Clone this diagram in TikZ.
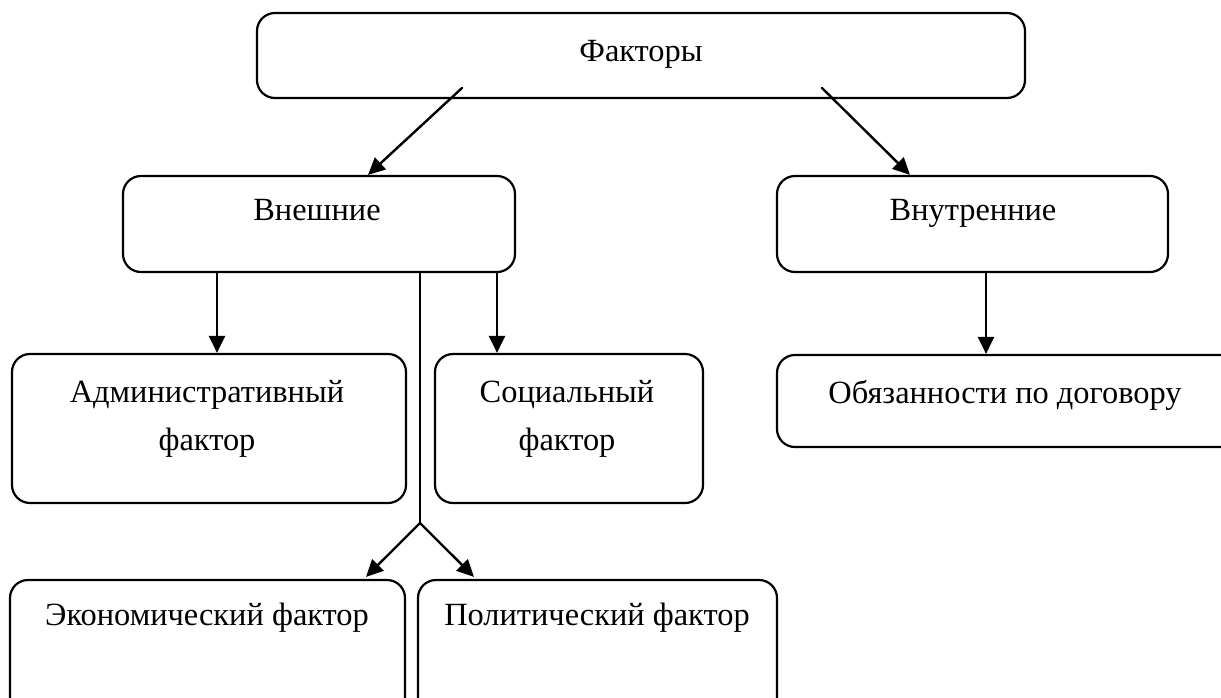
\documentclass[tikz,border=0pt]{standalone}
\usepackage{fontspec}
\setmainfont{Liberation Serif}
\usetikzlibrary{positioning}
\usetikzlibrary{calc}
\usetikzlibrary{arrows.meta}

\tikzset{
	box/.style={draw, line width=1.1pt, rounded corners=9pt, inner sep=0pt},
	lbl/.style={anchor=base, align=center, font=\fontsize{16.2}{24}\selectfont},
	arr/.style={-{Triangle[length=8.5pt,width=8pt]}, line width=1.2pt},
}

\begin{document}
\begin{tikzpicture}[line cap=round,line join=round,x=0.5pt,y=-0.5pt]
	\clip (0,0) rectangle (1221,697);
	
	% boxes
	\node [box, minimum width=384pt, minimum height=42.5pt] (fak) at (641,55.5) {};
	\node [box, minimum width=196pt, minimum height=48pt] (vne) at (319,224) {};
	\node [box, minimum width=195.5pt, minimum height=48pt] (vnu) at (972.5,224) {};
	\node [box, minimum width=197pt, minimum height=74.5pt] (adm) at (209,428.5) {};
	\node [box, minimum width=134pt, minimum height=74.5pt] (soc) at (569,428.5) {};
	\node [box, minimum width=231.5pt, minimum height=46pt] (obz) at (1008.5,401) {};
	\node [box, minimum width=197.5pt, minimum height=70pt] (eko) at (207.5,650) {};
	\node [box, minimum width=179.5pt, minimum height=70pt] (pol) at (597.5,650) {};
	
	% texts
	\node [lbl] (fakt) at (641,61) {Факторы};
	\node [lbl] (vnet) at (317,220) {Внешние};
	\node [lbl] (vnut) at (973,220) {Внутренние};
	\node [lbl] (admt) at (207,450) {Административный\\фактор};
	\node [lbl] (soct) at (567,450) {Социальный\\фактор};
	\node [lbl] (obzt) at (1005,403) {Обязанности по договору};
	\node [lbl] (ekot) at (207,625) {Экономический фактор};
	\node [lbl] (polt) at (597,625) {Политический фактор};
	
	% arrows
	\coordinate (f1) at (462,88);
	\coordinate (f2) at (822,88);
	\coordinate (v1) at (368,0);
	\coordinate (v2) at (910,0);
	\coordinate (xa) at (217,0);
	\coordinate (xs) at (497,0);
	\coordinate (xo) at (986,0);
	\coordinate (br) at (420,523);
	\coordinate (e1) at (366,0);
	\coordinate (p1) at (474,0);
	
	\draw [arr] (f1) -- (vne.north -| v1);
	\draw [arr] (f2) -- (vnu.north -| v2);
	
	\draw [arr] (vne.south -| xa) -- (adm.north -| xa);
	\draw [arr] (vne.south -| xs) -- (soc.north -| xs);
	\draw [arr] (vnu.south -| xo) -- (obz.north -| xo);
	
	\draw [line width=1.2pt] (vne.south -| br) -- (br);
	\draw [arr] (br) -- ($(eko.north -| e1)+(0,-2)$);
	\draw [arr] (br) -- ($(pol.north -| p1)+(0,-2)$);
\end{tikzpicture}
\end{document}
